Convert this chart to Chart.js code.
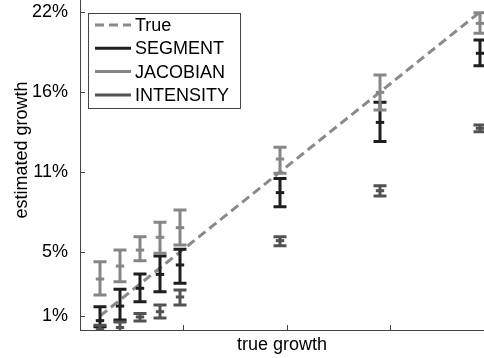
<!DOCTYPE html>
<html>
<head>
<meta charset="utf-8">
<script src="https://cdn.jsdelivr.net/npm/chart.js@4.4.1/dist/chart.umd.min.js"></script>
<style>
  html, body { margin: 0; padding: 0; background: #fff; overflow: hidden; width: 484px; height: 358px; }
  #wrap { position: absolute; left: 0; top: -30px; width: 484px; height: 388px; }
</style>
</head>
<body>
<div id="wrap"><canvas id="growthChart" width="484" height="388"></canvas></div>
<script>
// values are log growth x100; the y labels show them as percent growth
const trueGrowth = [1, 2, 3, 4, 5, 10, 15, 20];

const segMean = [0.71, 1.62, 2.73, 3.6, 4.19, 8.71, 13.1, 17.42];
const segLow  = [0.33, 0.75, 1.89, 2.52, 3.04, 7.83, 11.9, 16.64];
const segHigh = [1.58, 2.67, 3.62, 4.75, 5.17, 9.6, 14.36, 18.25];

const jacMean = [3.31, 4.12, 5.12, 5.92, 6.52, 10.81, 14.98, 19.29];
const jacLow  = [2.31, 3.14, 4.46, 4.92, 5.44, 9.92, 13.87, 18.67];
const jacHigh = [4.39, 5.12, 5.96, 6.86, 7.62, 11.54, 16.06, 19.96];

const intMean = [0.15, 0.28, 0.94, 1.27, 2.19, 5.71, 8.83, 12.73];
const intLow  = [-0.3, -0.2, 0.69, 0.87, 1.69, 5.39, 8.5, 12.52];
const intHigh = [0.42, 0.62, 1.16, 1.69, 2.62, 5.96, 9.14, 12.94];

const xTickValues = [5.17, 10.33, 15.5];
const yTickValues = [1, 5, 10, 15, 20];
const yTickLabels = ['1%', '5%', '11%', '16%', '22%'];

const FONT = "'Liberation Sans', Arial, Helvetica, sans-serif";

function pts(ys) {
    return trueGrowth.map((g, i) => ({ x: g, y: ys[i] }));
}

const errorBars = {
    id: 'errorBars',
    afterDatasetDraw(chart, args) {
        const ds = chart.data.datasets[args.index];
        if (!ds.errLow) return;
        const { ctx, chartArea: a, scales: { x, y } } = chart;
        ctx.save();
        ctx.beginPath();
        ctx.rect(a.left, a.top, a.right - a.left, a.bottom - a.top);
        ctx.clip();
        ctx.strokeStyle = ds.borderColor;
        ctx.lineWidth = 3;
        ds.data.forEach((p, i) => {
            const px = x.getPixelForValue(p.x);
            const lo = y.getPixelForValue(ds.errLow[i]);
            const hi = y.getPixelForValue(ds.errHigh[i]);
            ctx.beginPath();
            ctx.moveTo(px, lo); ctx.lineTo(px, hi);
            ctx.moveTo(px - 6.5, lo); ctx.lineTo(px + 6.5, lo);
            ctx.moveTo(px - 6.5, hi); ctx.lineTo(px + 6.5, hi);
            ctx.stroke();
        });
        ctx.restore();
    }
};

const ticksAndLegend = {
    id: 'ticksAndLegend',
    afterDraw(chart) {
        const { ctx, chartArea: a, scales: { x, y } } = chart;
        ctx.save();
        // inward tick marks
        ctx.strokeStyle = '#444';
        ctx.lineWidth = 1;
        ctx.beginPath();
        y.ticks.forEach(t => {
            const py = Math.round(y.getPixelForValue(t.value)) + 0.5;
            ctx.moveTo(a.left, py); ctx.lineTo(a.left + 5, py);
        });
        x.ticks.forEach(t => {
            const px = Math.round(x.getPixelForValue(t.value)) + 0.5;
            ctx.moveTo(px, a.bottom); ctx.lineTo(px, a.bottom - 5);
        });
        ctx.stroke();

        // legend box
        const bx = 88.5, by = 43.5, bw = 152, bh = 95;
        ctx.fillStyle = '#fff';
        ctx.fillRect(bx, by, bw, bh);
        ctx.strokeRect(bx, by, bw, bh);
        ctx.font = '18px ' + FONT;
        ctx.textBaseline = 'middle';
        ctx.textAlign = 'left';
        chart.data.datasets.forEach((ds, i) => {
            const ry = 55 + i * 23.3;
            ctx.strokeStyle = ds.borderColor;
            ctx.lineWidth = 3;
            ctx.setLineDash(ds.borderDash || []);
            ctx.beginPath();
            ctx.moveTo(95, ry); ctx.lineTo(131, ry);
            ctx.stroke();
            ctx.setLineDash([]);
            ctx.fillStyle = '#000';
            ctx.fillText(ds.label, 135, ry + 1);
        });
        ctx.restore();
    }
};

function errSeries(label, color, mean, low, high, order) {
    return {
        label: label,
        data: pts(mean),
        errLow: low,
        errHigh: high,
        order: order,
        showLine: false,
        borderColor: color,
        backgroundColor: color,
        pointStyle: 'line',
        pointRadius: 4.2,
        pointBorderWidth: 3,
        pointHoverRadius: 4.2
    };
}

function noPad(s) {
    s.paddingTop = 0; s.paddingBottom = 0;
    s.paddingLeft = 0; s.paddingRight = 0;
}

new Chart(document.getElementById('growthChart'), {
    type: 'scatter',
    data: {
        datasets: [
            {
                label: 'True',
                data: pts(trueGrowth),
                order: 4,
                showLine: true,
                borderColor: '#8a8a8a',
                borderWidth: 3,
                borderDash: [9, 5],
                pointRadius: 0
            },
            errSeries('SEGMENT', '#1e1e1e', segMean, segLow, segHigh, 3),
            errSeries('JACOBIAN', '#868686', jacMean, jacLow, jacHigh, 2),
            errSeries('INTENSITY', '#525252', intMean, intLow, intHigh, 1)
        ]
    },
    options: {
        responsive: false,
        devicePixelRatio: 1,
        animation: false,
        layout: { padding: 0, autoPadding: false },
        plugins: {
            legend: { display: false },
            tooltip: { enabled: false }
        },
        scales: {
            x: {
                type: 'linear',
                min: 0,
                max: 20.2,
                afterBuildTicks: s => { s.ticks = xTickValues.map(v => ({ value: v })); },
                afterFit: s => { s.height = 28; noPad(s); },
                grid: { display: false },
                border: { display: true, color: '#444', width: 1 },
                ticks: { display: false },
                title: {
                    display: true,
                    text: 'true growth',
                    color: '#000',
                    font: { family: FONT, size: 18 },
                    padding: { top: 0, bottom: 2 }
                }
            },
            y: {
                type: 'linear',
                min: 0.125,
                max: 22.625,
                afterBuildTicks: s => { s.ticks = yTickValues.map(v => ({ value: v })); },
                afterFit: s => { s.width = 80; noPad(s); },
                grid: { display: false },
                border: { display: true, color: '#444', width: 1 },
                ticks: {
                    color: '#000',
                    padding: 4,
                    font: { family: FONT, size: 18 },
                    callback: (v, i) => yTickLabels[i]
                },
                title: {
                    display: true,
                    text: 'estimated growth',
                    color: '#000',
                    font: { family: FONT, size: 18 },
                    padding: { top: 11, bottom: 0 }
                }
            }
        }
    },
    plugins: [errorBars, ticksAndLegend]
});
</script>
</body>
</html>
